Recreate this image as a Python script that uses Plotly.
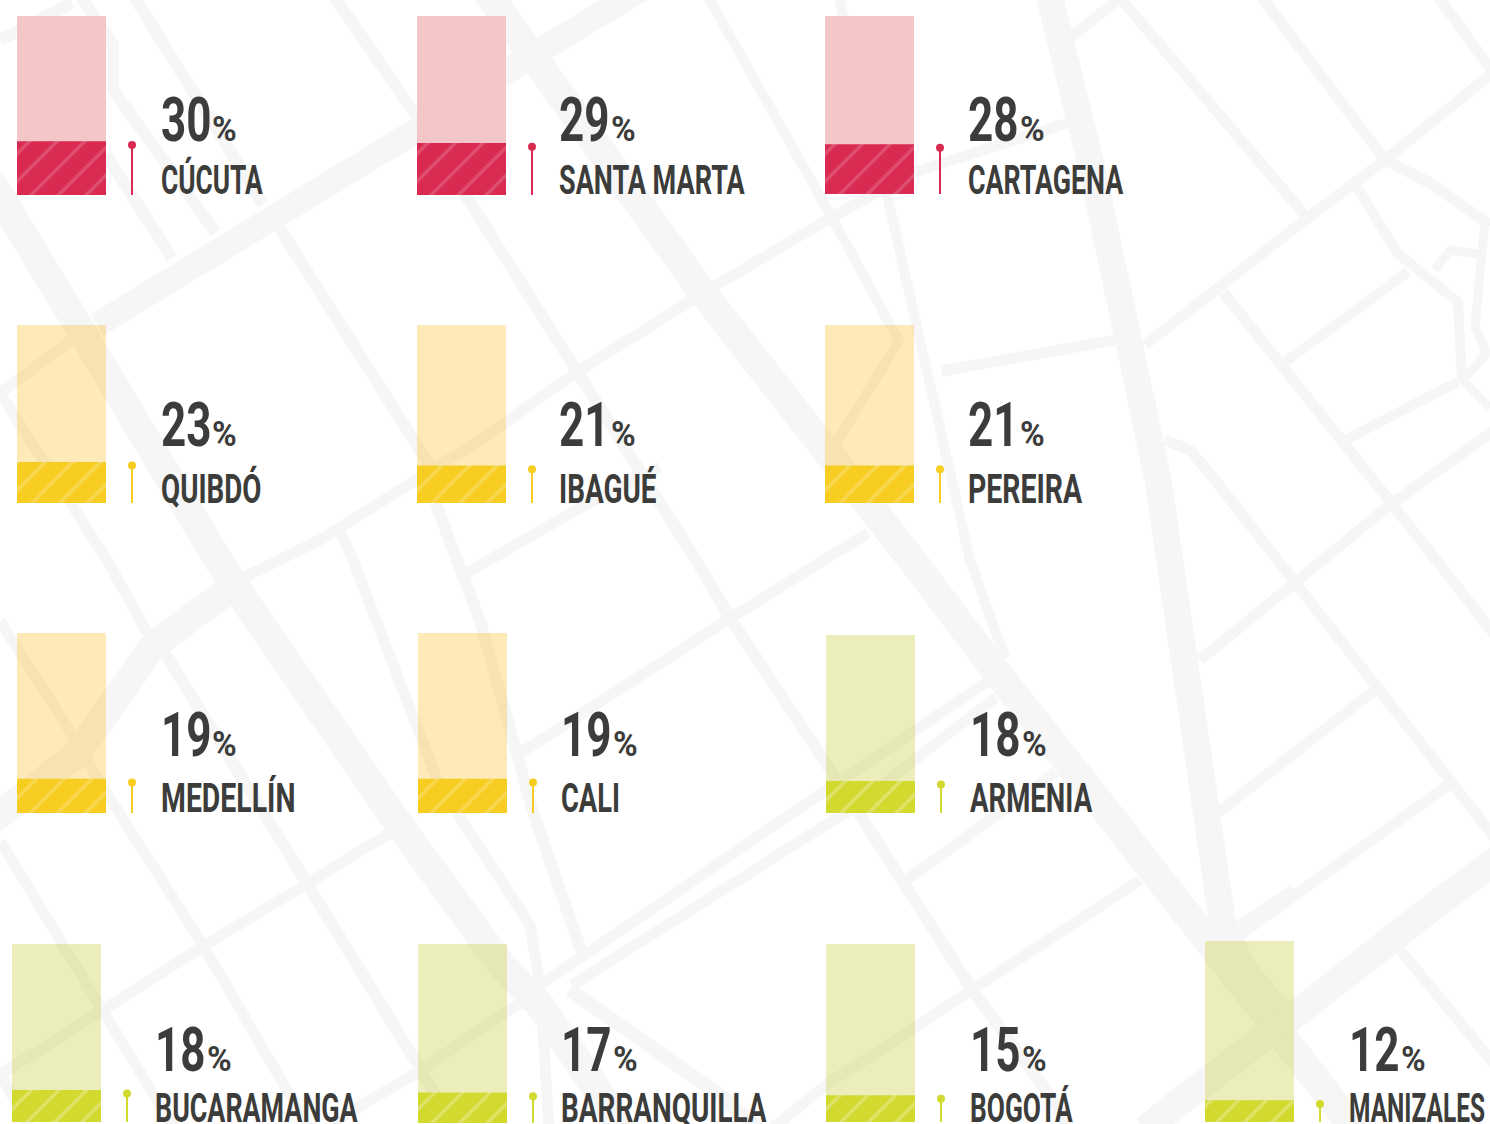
import json
import plotly.graph_objects as go

W, H = 1490, 1124

# ---- data ----
cities = ["CÚCUTA", "SANTA MARTA", "CARTAGENA", "QUIBDÓ", "IBAGUÉ", "PEREIRA", "MEDELLÍN",
          "CALI", "ARMENIA", "BUCARAMANGA", "BARRANQUILLA", "BOGOTÁ", "MANIZALES"]
values = [30, 29, 28, 23, 21, 21, 19, 19, 18, 18, 17, 15, 12]
levels = ["high", "high", "high", "mid", "mid", "mid", "mid", "mid", "low", "low", "low", "low", "low"]

# ---- layout (pixels): bar left, bar top, bar bottom, text left ----
panels = [(17, 16, 195, 161), (417, 16, 195, 559), (825, 16, 194, 968),
          (17, 325, 503, 161), (417, 325, 503, 559), (825, 325, 503, 968),
          (17, 633, 813, 161), (418, 633, 813, 561), (826, 635, 813, 970),
          (12, 944, 1122, 155), (418, 944, 1123, 561), (826, 944, 1122, 970),
          (1205, 941, 1122, 1349)]
text_rows = [(141, 194)] * 3 + [(446, 503)] * 3 + [(756, 812)] * 3 + [(1071, 1122)] * 4
name_widths = [102, 186, 155.5, 100.5, 97.5, 114.5, 134.5, 59, 122.5, 203, 206, 103, 136]
solid = {"high": "#d92a52", "mid": "#f7cd22", "low": "#d2d92f"}
pale = {"high": "#f5c6c8", "mid": "rgba(250,178,0,0.28)", "low": "rgba(190,200,30,0.30)"}
hatch = {"high": "rgba(255,255,255,0.34)", "mid": "rgba(255,255,255,0.42)", "low": "rgba(255,255,255,0.55)"}

# ---- decorative street map (pixels): width, polyline ----
streets = [
    (27, [(1048, -10), (1090, 160), (1129, 343), (1158, 480), (1192, 713), (1222, 920), (1240, 965), (1285, 1020)]),
    (29, [(485, -10), (537, 62), (703, 293), (912, 560), (998, 674), (1100, 803), (1172, 895), (1270, 1020), (1355, 1130)]),
    (29, [(-10, 180), (78, 325), (218, 560), (240, 594), (398, 823), (500, 963), (540, 1005), (604, 1100), (625, 1134)]),
    (28, [(1500, 858), (1442, 900), (1288, 1020), (1263, 1038), (1173, 1107), (1145, 1130)]),
    (25, [(97, 325), (409, 135), (528, 58), (640, -10)]),
    (28, [(-10, 822), (77, 754), (153, 646), (235, 585)]),
    (11, [(245, 577), (320, 540), (480, 440), (577, 372), (700, 295), (830, 218), (915, 172), (1061, 125), (1090, 118)]),
    (11, [(1490, 75), (1385, 160), (1305, 220), (1145, 345)]),
    (11, [(1070, 38), (1120, -2), (1305, 215)]),
    (11, [(1260, -5), (1385, 160), (1430, 183), (1490, 225)]),
    (11, [(1437, -5), (1495, 75)]),
    (10, [(1357, 187), (1397, 253), (1458, 302), (1462, 380)]),
    (9, [(1435, 270), (1450, 250), (1485, 255)]),
    (9, [(1485, 220), (1475, 327), (1487, 353), (1463, 380), (1490, 408)]),
    (10, [(1408, 272), (1285, 362)]),
    (11, [(1223, 292), (1393, 505), (1495, 635)]),
    (10, [(1458, 382), (1345, 440)]),
    (11, [(1495, 430), (1390, 505), (1200, 660)]),
    (11, [(1165, 440), (1190, 450), (1215, 480), (1495, 838)]),
    (11, [(1375, 690), (1215, 815)]),
    (11, [(1448, 785), (1240, 935)]),
    (11, [(1115, 340), (942, 371)]),
    (12, [(0, 40), (72, 3)]),
    (12, [(133, -5), (263, 204)]),
    (12, [(216, 233), (113, 90), (113, 45), (80, -5)]),
    (12, [(172, 258), (106, 155)]),
    (12, [(333, -5), (413, 111), (480, 218), (575, 368), (696, 560), (732, 621), (860, 815), (971, 988), (1053, 1100), (1070, 1130)]),
    (12, [(280, 229), (427, 461), (437, 507), (480, 621), (533, 812), (583, 956)]),
    (11, [(78, 335), (0, 393), (107, 560), (147, 632)]),
    (11, [(0, 621), (73, 736), (107, 794), (203, 945), (310, 1130)]),
    (11, [(0, 841), (100, 1006), (157, 1100), (175, 1130)]),
    (12, [(163, 650), (305, 880), (415, 1060), (455, 1130)]),
    (11, [(-5, 1078), (100, 1012), (205, 945), (305, 885), (395, 830)]),
    (11, [(3, 1078), (30, 1130)]),
    (11, [(330, 1124), (418, 1072), (525, 1000)]),
    (11, [(337, 525), (353, 560), (437, 779), (457, 813), (530, 925), (540, 984), (549, 1130)]),
    (10, [(707, -5), (830, 214), (899, 341), (836, 443)]),
    (10, [(838, -5), (887, 195), (927, 371), (970, 560), (1005, 658)]),
    (11, [(463, 575), (587, 504), (660, 467)]),
    (11, [(868, 533), (732, 617), (522, 752)]),
    (11, [(540, 985), (579, 959), (842, 779), (987, 682)]),
    (11, [(572, 985), (851, 809), (996, 697)]),
    (11, [(904, 882), (1056, 772)]),
    (11, [(1140, 880), (972, 990), (826, 1085), (770, 1130)]),
    (14, [(570, 990), (720, 1095), (760, 1130)]),
    (11, [(1392, 940), (1495, 1065)]),
    (11, [(1240, 925), (1293, 890)]),
]


def px(x):
    return x / W


def py(y):
    return 1 - y / H


fig = go.Figure()
layout = dict(
    width=W, height=H, margin=dict(l=0, r=0, t=0, b=0), autosize=False,
    paper_bgcolor="white", plot_bgcolor="rgba(0,0,0,0)", showlegend=False, barmode="overlay",
)
shapes = []
for width, pts in streets:
    path = "M" + " L".join(f"{px(x):.5f},{py(y):.5f}" for x, y in pts)
    shapes.append(dict(type="path", xref="paper", yref="paper", path=path, layer="below",
                       line=dict(color="#f6f6f6", width=width), fillcolor="rgba(0,0,0,0)"))

annotations = []
FONT = "Roboto"
INK = "#3c3c3b"
PIN_X = 115
PIN_TIP = 2  # dot centre sits just under the value, so that its top lines up with the bar


def label(x, y, text, size):
    return dict(x=px(x), y=py(y), xref="paper", yref="paper", xanchor="left", yanchor="bottom",
                showarrow=False, align="left", borderpad=0, borderwidth=0, text=text,
                font=dict(family=FONT, size=size, color=INK, weight=700))


for i, (city, val, lev, panel, row) in enumerate(zip(cities, values, levels, panels, text_rows), start=1):
    left, top, bottom, tx = panel
    suffix = "" if i == 1 else str(i)
    layout[f"xaxis{suffix}"] = dict(domain=[px(left), px(left + 130)], range=[0, 130], visible=False,
                                    anchor=f"y{suffix}", fixedrange=True)
    layout[f"yaxis{suffix}"] = dict(domain=[max(py(bottom), 0), py(top)], range=[0, 100], visible=False,
                                    anchor=f"x{suffix}", fixedrange=True)
    fig.add_trace(go.Bar(x=[44.5], y=[100], width=[89], xaxis=f"x{suffix}", yaxis=f"y{suffix}",
                         marker=dict(color=pale[lev], line=dict(width=0))))
    fig.add_trace(go.Bar(x=[44.5], y=[val], width=[89], xaxis=f"x{suffix}", yaxis=f"y{suffix}",
                         marker=dict(color=solid[lev], line=dict(width=0),
                                     pattern=dict(shape="/", fgcolor=hatch[lev], bgcolor=solid[lev],
                                                  size=19.5, solidity=0.18))))
    fig.add_trace(go.Scatter(x=[PIN_X, PIN_X], y=[0, val - PIN_TIP], mode="lines+markers", xaxis=f"x{suffix}",
                             yaxis=f"y{suffix}", cliponaxis=False,
                             line=dict(color=solid[lev], width=2),
                             marker=dict(color=solid[lev], size=[0, 8], opacity=1, line=dict(width=0))))
    num_base, name_base = row
    annotations.append(label(tx, num_base + 15, str(val), 62))
    annotations.append(label(tx + 51.5, num_base + 9, "%", 36))
    annotations.append(label(tx, name_base + 10, city, 41))

layout["shapes"] = shapes
layout["annotations"] = annotations
fig.update_layout(**layout)

# The page is flush with the window, and the labels are set condensed as in the reference.
post = """
document.body.style.margin = '0';
(function () {
  var gd = document.getElementById('{plot_id}');
  var squeeze = {62: 0.71, 36: 0.93};
  var nameWidth = __NAMES__;
  function apply() {
    document.querySelectorAll('text.annotation-text').forEach(function (t) {
      var box = t.getBBox();
      var k = nameWidth[t.textContent] ? nameWidth[t.textContent] / box.width
                                       : squeeze[Math.round(parseFloat(t.style.fontSize))];
      if (!k) return;
      t.setAttribute('transform', 'translate(' + box.x + ',0) scale(' + k + ',1) translate(' + (-box.x) + ',0)');
    });
  }
  apply();
  gd.on('plotly_afterplot', apply);
})();
""".replace("__NAMES__", json.dumps(dict(zip(cities, name_widths)), ensure_ascii=False))
fig.write_html("out.html", config=dict(displayModeBar=False, responsive=False), post_script=post)
